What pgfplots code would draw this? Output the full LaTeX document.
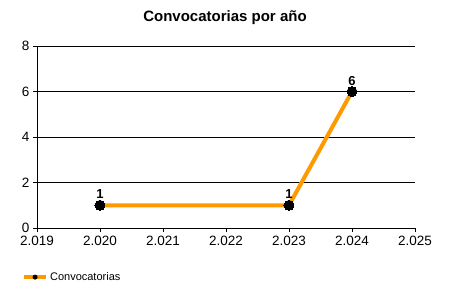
\documentclass[border=0pt]{standalone}
\usepackage{pgfplots}
\pgfplotsset{compat=1.18}
\usepackage{fontspec}
\setmainfont{Liberation Sans}
\definecolor{lineor}{RGB}{255,153,0}
\begin{document}
\begin{tikzpicture}[x=1pt,y=1pt]
\useasboundingbox (0,0) rectangle (450,300);
\node[font=\bfseries\fontsize{15}{17}\selectfont] at (225,282) {Convocatorias por año};
\begin{axis}[
  at={(37pt,72pt)}, anchor=south west,
  scale only axis, width=378pt, height=182pt,
  xmin=2019, xmax=2025, ymin=0, ymax=8,
  xtick={2019,...,2025},
  xticklabels={2.019,2.020,2.021,2.022,2.023,2.024,2.025},
  ytick={0,2,4,6,8},
  axis x line*=bottom, axis y line*=left,
  axis line style={black, line width=0.8pt, -},
  ymajorgrids, major grid style={black, line width=0.6pt},
  tick style={black, line width=0.8pt},
  tick align=outside, major tick length=4pt,
  every tick label/.append style={font=\fontsize{13.5}{15}\selectfont},
  xticklabel style={yshift=-1pt},
  /pgf/number format/assume math mode=true,
  clip=false,
  legend style={at={(-0.04,-0.27)}, anchor=west, draw=none, fill=none,
    font=\fontsize{11}{13}\selectfont, inner sep=0pt},
  legend image code/.code={
    \draw[lineor, line width=4pt] (0pt,0pt) -- (22pt,0pt);
    \node[circle, fill=black, draw=none, inner sep=0pt, minimum size=5pt] at (11pt,0pt) {};
  },
]
\addplot[lineor, line width=4pt, mark=*, mark size=5pt,
  mark options={fill=black, draw=black, line width=0pt},
  nodes near coords, point meta=y,
  nodes near coords style={font=\bfseries\fontsize{13}{15}\selectfont, black, anchor=south, yshift=3pt},
] coordinates {(2020,1) (2023,1) (2024,6)};
\addlegendentry{Convocatorias}
\end{axis}
\end{tikzpicture}
\end{document}
